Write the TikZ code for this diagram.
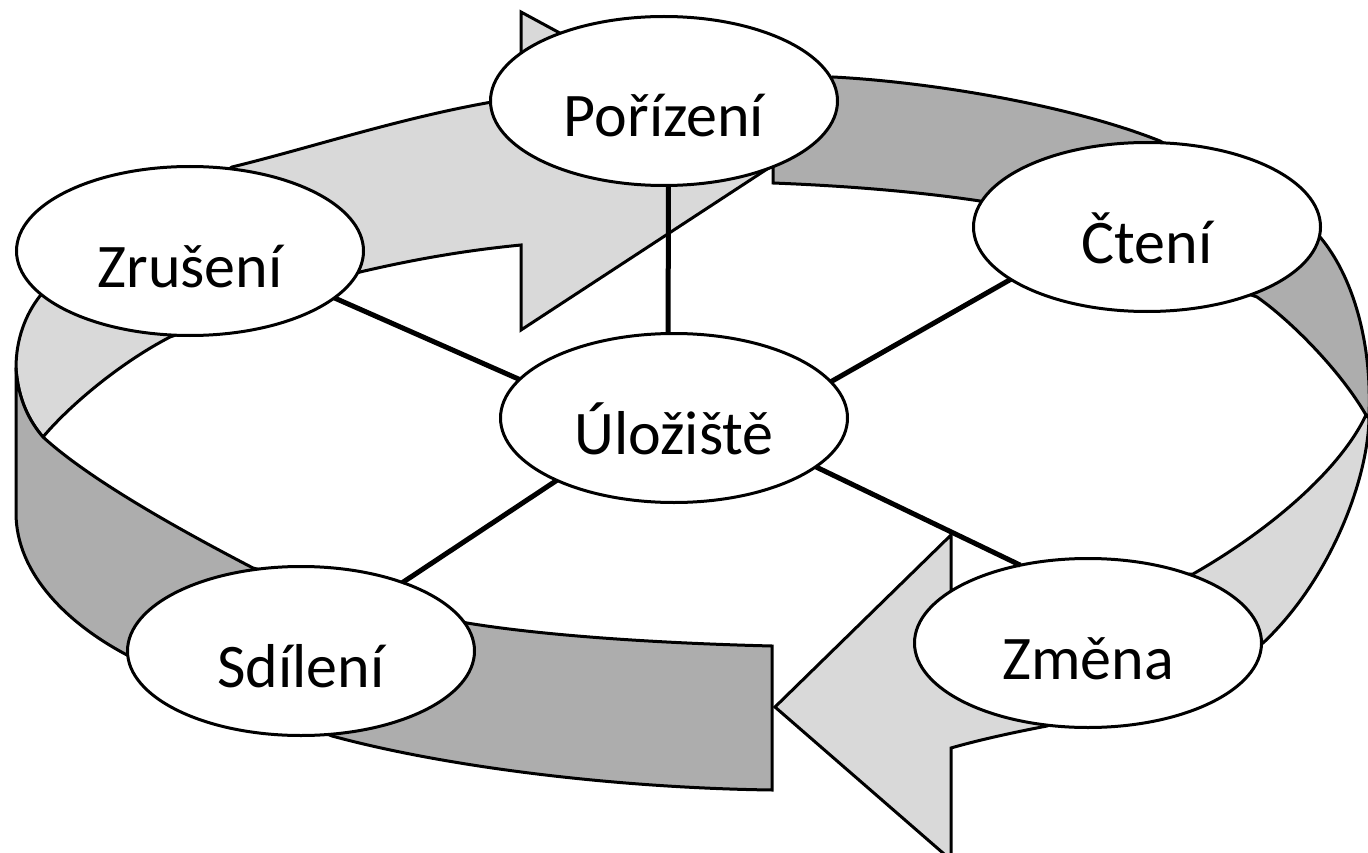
\documentclass[tikz,border=0pt]{standalone}
\usepackage{fontspec}
\setmainfont{Carlito}
\usetikzlibrary{shapes.geometric}
\definecolor{lightg}{HTML}{D9D9D9}
\definecolor{darkg}{HTML}{ADADAD}
\begin{document}
\begin{tikzpicture}[x=1pt,y=-1pt,
  band/.style={draw=black,line width=3pt,line join=miter},
  bub/.style={ellipse,draw=black,line width=3pt,fill=white,
    minimum width=347pt,minimum height=169pt,inner sep=0pt,outer sep=0pt,
    text height=76pt,text depth=4pt,font=\fontsize{62}{70}\selectfont},
  spoke/.style={draw=black,line width=5pt}]
\useasboundingbox (0,0) rectangle (1368,853);
% top-right dark band (tail of arrow towards bottom)
\path[band,fill=darkg] (773,183) -- (773,100) -- (833,77)
  .. controls (930,82) and (1070,105) .. (1160,141) -- (1320,237)
  .. controls (1352,275) and (1372,340) .. (1369,415) -- (1366,415)
  .. controls (1340,370) and (1290,320) .. (1257,297) -- (980,201)
  .. controls (920,192) and (850,186) .. (773,183) -- cycle;
% top-left light band with arrowhead
\path[band,fill=lightg] (43,437) .. controls (70,405) and (120,363) .. (170,337)
  -- (360,272) .. controls (420,258) and (470,250) .. (521,245)
  -- (521,330) -- (787,156) -- (521,12) -- (521,96) -- (492,102)
  .. controls (400,118) and (310,148) .. (232,167) -- (40,296)
  .. controls (25,315) and (16,340) .. (16,368)
  .. controls (18,400) and (30,422) .. (43,437) -- cycle;
% left/bottom dark band
\path[band,fill=darkg] (16,368) -- (16,513) .. controls (16,575) and (70,625) .. (127,655)
  -- (332,736) .. controls (450,768) and (620,788) .. (772,790) -- (772,646)
  .. controls (650,643) and (540,635) .. (467,623) -- (253,568)
  .. controls (180,530) and (90,480) .. (43,437)
  .. controls (30,422) and (18,400) .. (16,368) -- cycle;
% right/bottom light band with arrowhead
\path[band,fill=lightg] (1369,418) .. controls (1368,480) and (1330,580) .. (1263,643)
  -- (1047,726) .. controls (1010,733) and (975,741) .. (951,748)
  -- (951,860) -- (775,707) -- (951,535) -- (951,590) -- (1193,574)
  .. controls (1270,530) and (1340,470) .. (1366,415) -- cycle;
% nodes
\node[bub] (por) at (664,101) {Pořízení};
\node[bub] (cte) at (1147,227) {Čtení};
\node[bub] (zru) at (190,251) {Zrušení};
\node[bub] (ulo) at (674,418) {Úložiště};
\node[bub] (sdi) at (301,651) {Sdílení};
\node[bub] (zme) at (1088,643) {Změna};
% connectors
\draw[spoke] (por.-87.3) -- (ulo.94);
\draw[spoke] (zru.-18.4) -- (ulo.166.4);
\draw[spoke] (cte.201.2) -- (ulo.13);
\draw[spoke] (sdi.34.9) -- (ulo.208.6);
\draw[spoke] (zme.131) -- (ulo.-19.3);
\end{tikzpicture}
\end{document}
